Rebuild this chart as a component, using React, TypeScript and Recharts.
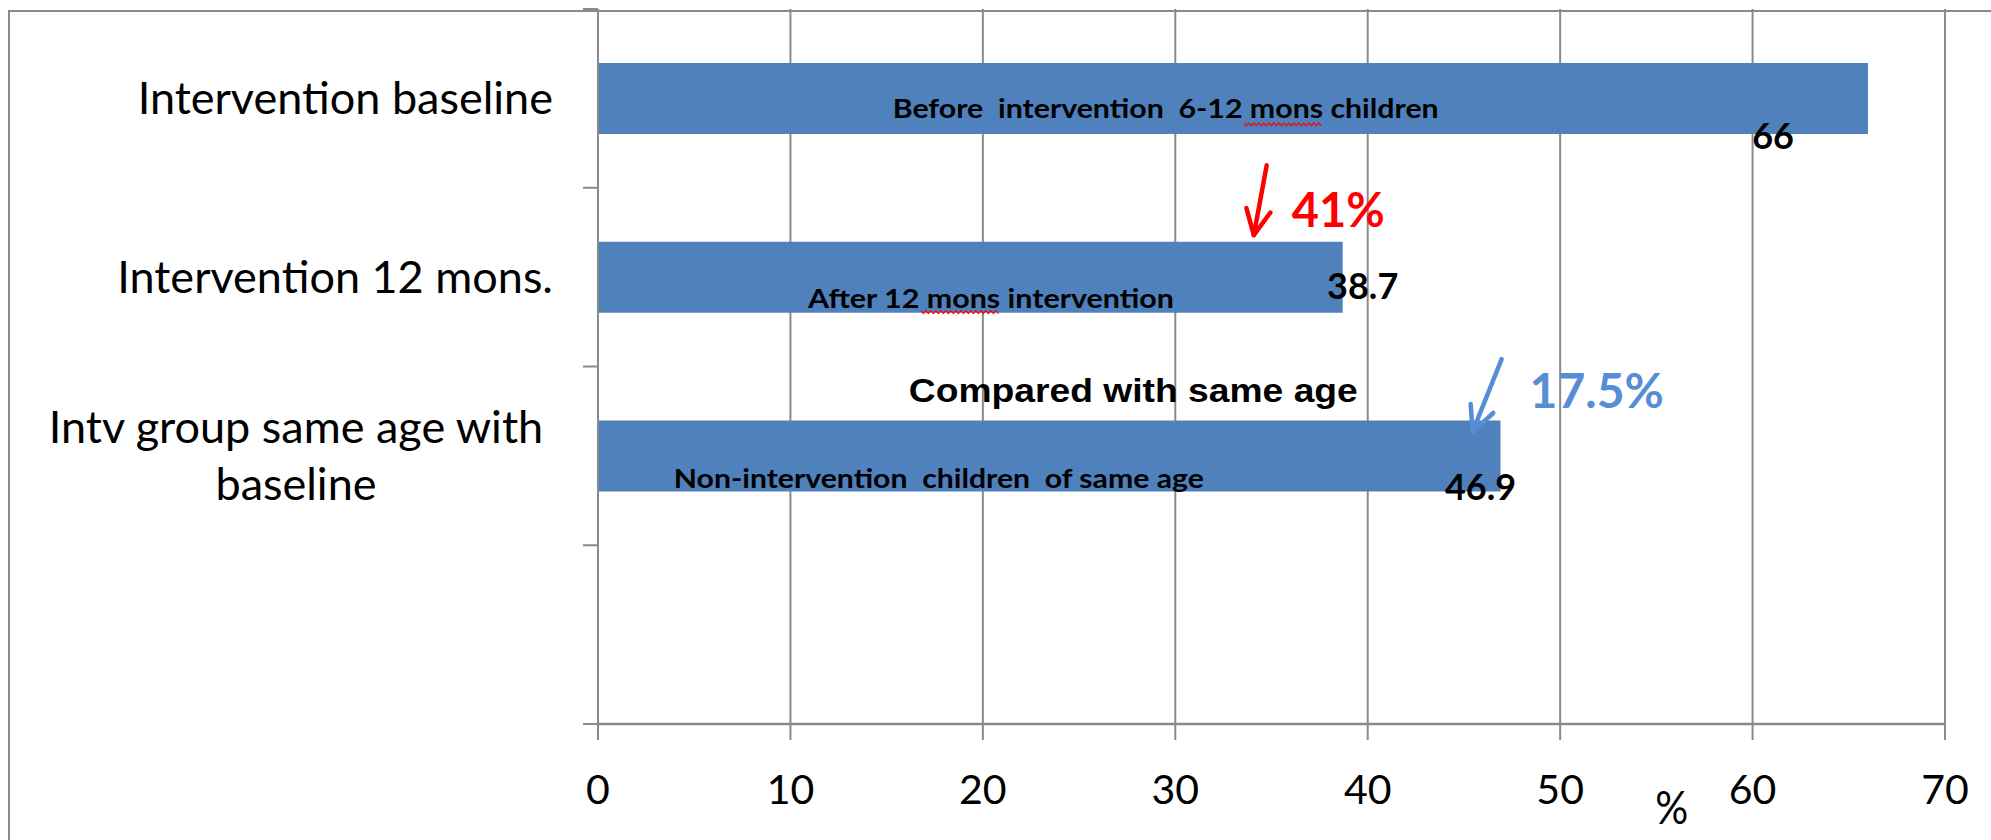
import React from 'react';
import { BarChart, Bar, XAxis, YAxis, CartesianGrid, LabelList, ReferenceLine, ReferenceDot } from 'recharts';

// ---------- data ----------
const categories = ['Intervention baseline', 'Intervention 12 mons.', 'Intv group same age with\nbaseline', ''];
const values: (number | null)[] = [66, 38.7, 46.9, null];
const valueLabels = ['66', '38.7', '46.9', ''];
const xTicks = [0, 10, 20, 30, 40, 50, 60, 70];

// in-bar descriptions (x in data units, row = category index)
const barNotes = ['Before  intervention  6-12 mons children', 'After 12 mons intervention', 'Non-intervention  children  of same age'];
const barNoteX = [29.5, 20.42, 17.71];
const barNoteRow = [0, 1, 2];

// change annotations
const changeTexts = ['41%', '17.5%'];
const changeTextX = [38.47, 51.9];
const changeTextRow = [1, 2];
const arrowFromX = [34.75, 46.96];
const arrowToX = [34.08, 45.45];
const arrowFromRow = [0, 1];
const arrowToRow = [1, 2];

const compareText = 'Compared with same age';
const compareX = 27.82;
const compareRow = 2;
const unitText = '%';
const unitX = 55.8;
const unitRow = 2;

// spell-check squiggles under "mons"
const squiggleFromX = [33.56, 16.78];
const squiggleToX = [37.71, 20.88];
const squiggleRow = [0, 1];

const data = categories.map((name, i) => ({ name, value: values[i], label: valueLabels[i] }));

// ---------- styles / pixel nudges ----------
const BAR = '#4F81BD';
const GRID = '#8A8A8A';
const RED = '#FF0000';
const BLUE = '#558ED5';
const FONT = 'Lato, "Open Sans", sans-serif';
const valueNudges = [{ dx: -95, dy: 50 }, { dx: 20, dy: 22 }, { dx: -20, dy: 44 }];
const noteWidths = [546, 366, 530];
const noteDy = [20, 31, 32];
const changeColors = [RED, BLUE];
const changeSizes = [47, 48];
const changeDy = [-50, -48];
const arrowFromDy = [67, 82];
const arrowToDy = [-42, -24];
const compareDy = -54;
const unitDy = 368;
const squiggleDy = [26, 35];

const CategoryTick = (props: any) => {
  const { x, y, payload, height, visibleTicksCount, index } = props;
  const count = Number(visibleTicksCount) || categories.length;
  const band = (Number(height) || 715) / count;
  const axisX = x + 45;
  const lines = payload && payload.value ? String(payload.value).split('\n') : [];
  const n = lines.length;
  return (
    <g>
      <line x1={axisX - 15} x2={axisX} y1={y - band / 2} y2={y - band / 2} stroke={GRID} strokeWidth={2} />
      {index === count - 1 && (
        <line x1={axisX - 15} x2={axisX} y1={y + band / 2} y2={y + band / 2} stroke={GRID} strokeWidth={2} />
      )}
      {lines.map((ln, i) => (
        <text
          key={i}
          x={n > 1 ? x - 257 : x}
          y={y + 16 + (i - (n - 1) / 2) * 57}
          textAnchor={n > 1 ? 'middle' : 'end'}
          fontFamily={FONT}
          fontSize={45}
          fill="#000"
        >
          {ln}
        </text>
      ))}
    </g>
  );
};

const XTick = (props: any) => {
  const { x, y, payload } = props;
  return (
    <text x={x} y={y + 64} textAnchor="middle" fontFamily={FONT} fontSize={41} fill="#000">
      {payload.value}
    </text>
  );
};

const makeArrow = (color: string, dy1: number, dy2: number) => (p: any) => {
  const x1 = p.x1;
  const y1 = p.y1 + dy1;
  const x2 = p.x2;
  const y2 = p.y2 + dy2;
  const ang = Math.atan2(y2 - y1, x2 - x1);
  const L = 28;
  const w = 0.45;
  const ax = x2 - L * Math.cos(ang - w);
  const ay = y2 - L * Math.sin(ang - w);
  const bx = x2 - L * Math.cos(ang + w);
  const by = y2 - L * Math.sin(ang + w);
  return (
    <g>
      <line x1={x1} y1={y1} x2={x2} y2={y2} stroke={color} strokeWidth={4.5} strokeLinecap="round" />
      <polyline points={`${ax},${ay} ${x2},${y2} ${bx},${by}`} fill="none" stroke={color} strokeWidth={4.5} strokeLinecap="round" strokeLinejoin="round" />
    </g>
  );
};

const makeSquiggle = (dy: number) => (p: any) => {
  const { x1, x2 } = p;
  const yy = p.y1 + dy;
  const pts: string[] = [];
  let k = 0;
  for (let x = x1; x <= x2; x += 2.5) {
    pts.push(`${x},${yy + (k % 2 === 0 ? -1.5 : 1.5)}`);
    k++;
  }
  return <polyline points={pts.join(' ')} fill="none" stroke={RED} strokeWidth={1.2} />;
};

export default function App() {
  return (
    <div style={{ position: 'absolute', left: 0, top: 0, width: 1991, height: 840, overflow: 'hidden', background: '#fff' }}>
      <div
        style={{
          position: 'absolute',
          left: 8,
          top: 10,
          width: 1983,
          height: 830,
          borderLeft: `2px solid ${GRID}`,
          borderTop: `2px solid ${GRID}`,
          boxSizing: 'border-box',
        }}
      />
      <div style={{ position: 'absolute', left: 0, top: 0 }}>
        <BarChart
          width={1991}
          height={840}
          data={data}
          layout="vertical"
          margin={{ top: 9, right: 46, bottom: 16, left: 0 }}
          barCategoryGap={0}
        >
          <CartesianGrid horizontal={false} vertical stroke={GRID} strokeWidth={2} />
          <XAxis
            type="number"
            domain={[0, 70]}
            ticks={xTicks}
            interval={0}
            height={100}
            axisLine={{ stroke: GRID, strokeWidth: 2.5 }}
            tickLine={{ stroke: GRID, strokeWidth: 2 }}
            tickSize={16}
            tickMargin={0}
            tick={<XTick />}
            allowDataOverflow
          />
          <YAxis
            type="category"
            dataKey="name"
            width={598}
            axisLine={{ stroke: GRID, strokeWidth: 2 }}
            tickLine={false}
            tickSize={0}
            tickMargin={45}
            interval={0}
            tick={<CategoryTick />}
          />
          <Bar dataKey="value" fill={BAR} barSize={71} isAnimationActive={false}>
            <LabelList
              dataKey="label"
              content={(p: any) => {
                const { x, y, width, height, index, value } = p;
                if (!value) return null;
                const n = valueNudges[index] || { dx: 0, dy: 0 };
                return (
                  <text
                    x={Number(x) + Number(width) + n.dx}
                    y={Number(y) + Number(height) / 2 + n.dy}
                    textAnchor="middle"
                    fontFamily={FONT}
                    fontWeight={700}
                    fontSize={36}
                    fill="#000"
                  >
                    {value}
                  </text>
                );
              }}
            />
          </Bar>

          {barNotes.map((t, i) => (
            <ReferenceDot
              key={`note${i}`}
              x={barNoteX[i]}
              y={categories[barNoteRow[i]]}
              r={0}
              ifOverflow="visible"
              shape={(p: any) => (
                <text
                  x={p.cx}
                  y={p.cy + noteDy[i]}
                  textAnchor="middle"
                  fontFamily={FONT}
                  fontWeight={700}
                  fontSize={27}
                  fill="#000"
                  textLength={noteWidths[i]}
                  lengthAdjust="spacingAndGlyphs"
                  style={{ whiteSpace: 'pre' }}
                >
                  {t}
                </text>
              )}
            />
          ))}

          {squiggleFromX.map((sx, i) => (
            <ReferenceLine
              key={`sq${i}`}
              segment={[
                { x: sx, y: categories[squiggleRow[i]] },
                { x: squiggleToX[i], y: categories[squiggleRow[i]] },
              ]}
              ifOverflow="visible"
              shape={makeSquiggle(squiggleDy[i])}
            />
          ))}

          {arrowFromX.map((ax, i) => (
            <ReferenceLine
              key={`arr${i}`}
              segment={[
                { x: ax, y: categories[arrowFromRow[i]] },
                { x: arrowToX[i], y: categories[arrowToRow[i]] },
              ]}
              ifOverflow="visible"
              shape={makeArrow(changeColors[i], arrowFromDy[i], arrowToDy[i])}
            />
          ))}

          {changeTexts.map((t, i) => (
            <ReferenceDot
              key={`chg${i}`}
              x={changeTextX[i]}
              y={categories[changeTextRow[i]]}
              r={0}
              ifOverflow="visible"
              shape={(p: any) => (
                <text x={p.cx} y={p.cy + changeDy[i]} textAnchor="middle" fontFamily={FONT} fontWeight={700} fontSize={changeSizes[i]} fill={changeColors[i]}>
                  {t}
                </text>
              )}
            />
          ))}

          <ReferenceDot
            x={compareX}
            y={categories[compareRow]}
            r={0}
            ifOverflow="visible"
            shape={(p: any) => (
              <text
                x={p.cx}
                y={p.cy + compareDy}
                textAnchor="middle"
                fontFamily='"Liberation Sans", Arial, sans-serif'
                fontWeight={700}
                fontSize={34}
                fill="#000"
                textLength={449}
                lengthAdjust="spacingAndGlyphs"
              >
                {compareText}
              </text>
            )}
          />

          <ReferenceDot
            x={unitX}
            y={categories[unitRow]}
            r={0}
            ifOverflow="visible"
            shape={(p: any) => (
              <text x={p.cx} y={p.cy + unitDy} textAnchor="middle" fontFamily={FONT} fontSize={46} fill="#000" textLength={33} lengthAdjust="spacingAndGlyphs">
                {unitText}
              </text>
            )}
          />
        </BarChart>
      </div>
    </div>
  );
}
